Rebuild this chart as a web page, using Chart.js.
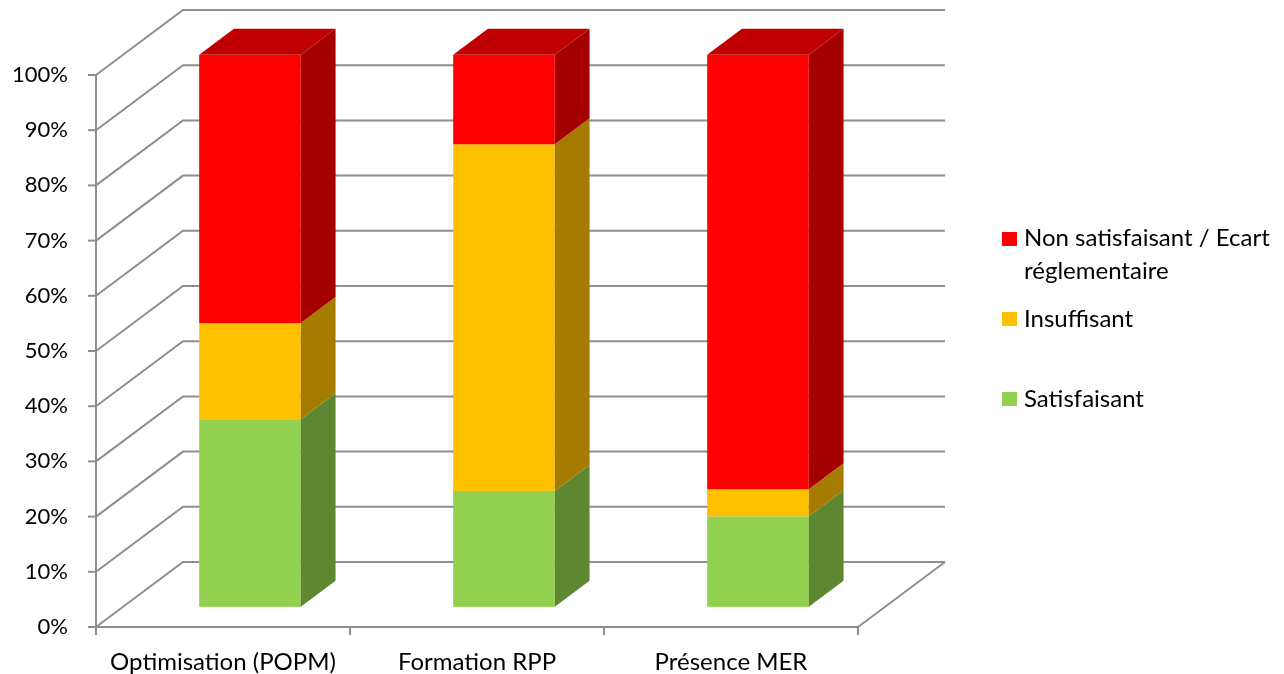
<!DOCTYPE html>
<html>
<head>
<meta charset="utf-8">
<script src="https://cdn.jsdelivr.net/npm/chart.js@4.4.1/dist/chart.umd.min.js"></script>
<style>
  html, body { margin: 0; padding: 0; background: #ffffff; }
  #wrap { width: 1284px; height: 674px; position: relative; }
</style>
</head>
<body>
<div id="wrap"><canvas id="chart" width="1284" height="674"></canvas></div>
<script>
// Chart data (percent of each category)
const categories = ['Optimisation (POPM)', 'Formation RPP', 'Présence MER'];
const satisfaisant = [34, 21, 16.4];
const insuffisant = [17.4, 62.8, 4.9];
const nonSatisfaisant = [48.6, 16.2, 78.7];
const seriesNames = ['Satisfaisant', 'Insuffisant', 'Non satisfaisant / Ecart réglementaire'];
const legendLines = [['Non satisfaisant / Ecart', 'réglementaire'], ['Insuffisant'], ['Satisfaisant']];

// Appearance
const FONT = 'Lato, "Open Sans", sans-serif';
const GRID = '#8e8e8e';
const depth = { dx: 87, dy: 65, front: 0.31, back: 0.71 };
const faces = [
  { front: '#92D050', side: '#5E8732', top: '#76A83F' },
  { front: '#FFC000', side: '#A67C00', top: '#CC9900' },
  { front: '#FF0000', side: '#A50000', top: '#C00000' }
];

// Back wall, side wall, floor and axis marks drawn in perspective
const wallsPlugin = {
  id: 'walls',
  beforeDatasetsDraw(chart) {
    const { ctx, chartArea: { left, right, top, bottom }, scales: { x, y } } = chart;
    ctx.save();
    ctx.strokeStyle = GRID;
    ctx.lineWidth = 2;
    y.ticks.forEach(t => {
      const py = y.getPixelForValue(t.value);
      ctx.beginPath();
      ctx.moveTo(left, py);
      ctx.lineTo(left + depth.dx, py - depth.dy);
      ctx.lineTo(right + depth.dx, py - depth.dy);
      ctx.stroke();
      ctx.beginPath();
      ctx.moveTo(left - 8, py);
      ctx.lineTo(left, py);
      ctx.stroke();
    });
    // floor right edge
    ctx.beginPath();
    ctx.moveTo(right, bottom);
    ctx.lineTo(right + depth.dx, bottom - depth.dy);
    ctx.stroke();
    // value axis and floor front edge
    ctx.beginPath();
    ctx.moveTo(left, top);
    ctx.lineTo(left, bottom + 8);
    ctx.moveTo(left, bottom);
    ctx.lineTo(right, bottom);
    ctx.stroke();
    // category separators
    for (let i = 0; i <= categories.length; i++) {
      const px = x.getPixelForValue(i - 0.5);
      ctx.beginPath();
      ctx.moveTo(px, bottom);
      ctx.lineTo(px, bottom + 8);
      ctx.stroke();
    }
    ctx.restore();
  },
  afterDatasetsDraw(chart) {
    const { ctx } = chart;
    const ox = depth.dx * depth.front, oy = depth.dy * depth.front;
    const ddx = depth.dx * (depth.back - depth.front), ddy = depth.dy * (depth.back - depth.front);
    const n = chart.data.datasets.length;
    ctx.save();
    for (let i = 0; i < categories.length; i++) {
      for (let d = 0; d < n; d++) {
        const el = chart.getDatasetMeta(d).data[i];
        const p = el.getProps(['x', 'y', 'base', 'width'], true);
        const x0 = p.x - p.width / 2 + ox, x1 = x0 + p.width;
        const yt = Math.min(p.y, p.base) - oy, yb = Math.max(p.y, p.base) - oy;
        const f = faces[d];
        // front face
        ctx.fillStyle = f.front;
        ctx.fillRect(x0, yt, p.width, yb - yt);
        // side face
        ctx.fillStyle = f.side;
        ctx.beginPath();
        ctx.moveTo(x1, yb);
        ctx.lineTo(x1 + ddx, yb - ddy);
        ctx.lineTo(x1 + ddx, yt - ddy);
        ctx.lineTo(x1, yt);
        ctx.closePath();
        ctx.fill();
        // top face on the highest segment
        if (d === n - 1) {
          ctx.fillStyle = f.top;
          ctx.beginPath();
          ctx.moveTo(x0, yt);
          ctx.lineTo(x0 + ddx, yt - ddy);
          ctx.lineTo(x1 + ddx, yt - ddy);
          ctx.lineTo(x1, yt);
          ctx.closePath();
          ctx.fill();
        }
      }
    }
    ctx.restore();
  },
  afterDraw(chart) {
    const { ctx } = chart;
    ctx.save();
    ctx.font = '24px ' + FONT;
    ctx.textBaseline = 'alphabetic';
    const squares = [232, 312, 392];
    const baselines = [[246, 279], [327], [407]];
    const colors = [faces[2].front, faces[1].front, faces[0].front];
    legendLines.forEach((lines, k) => {
      ctx.fillStyle = colors[k];
      ctx.fillRect(1002, squares[k], 15, 14);
      ctx.fillStyle = '#000000';
      lines.forEach((t, j) => ctx.fillText(t, 1024, baselines[k][j]));
    });
    ctx.restore();
  }
};

const clear = 'rgba(0,0,0,0)';
new Chart(document.getElementById('chart'), {
  type: 'bar',
  data: {
    labels: categories,
    datasets: [
      { label: seriesNames[0], data: satisfaisant, backgroundColor: clear },
      { label: seriesNames[1], data: insuffisant, backgroundColor: clear },
      { label: seriesNames[2], data: nonSatisfaisant, backgroundColor: clear }
    ]
  },
  options: {
    responsive: false,
    animation: false,
    layout: { padding: { left: 0, top: 75, right: 426, bottom: 0 } },
    datasets: { bar: { categoryPercentage: 1, barPercentage: 0.4, borderWidth: 0 } },
    plugins: { legend: { display: false }, tooltip: { enabled: false } },
    scales: {
      x: {
        stacked: true,
        grid: { display: false, drawTicks: false },
        border: { display: false },
        ticks: { color: '#000000', font: { family: FONT, size: 24 }, padding: 21, maxRotation: 0 },
        afterFit(s) { s.height = 47; }
      },
      y: {
        stacked: true,
        min: 0, max: 100,
        grid: { display: false, drawTicks: false },
        border: { display: false },
        ticks: { stepSize: 10, color: '#000000', font: { family: FONT, size: 22 }, padding: 28,
                 callback: v => v + '%' },
        afterFit(s) { s.width = 96; }
      }
    }
  },
  plugins: [wallsPlugin]
});
</script>
</body>
</html>
